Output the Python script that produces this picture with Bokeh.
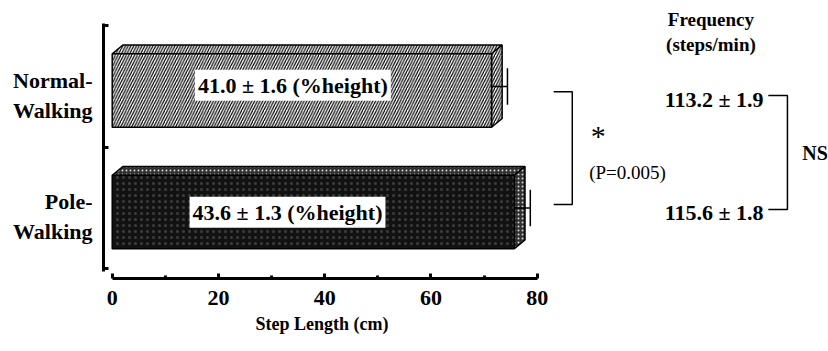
from bokeh.plotting import figure
from bokeh.models import Range1d, LinearAxis, FixedTicker, ColumnDataSource, Title
from bokeh.core.properties import value
from bokeh.embed import file_html
from bokeh.resources import INLINE

# ---- data -------------------------------------------------------------
categories = ["Normal-\nWalking", "Pole-\nWalking"]
cat_pos = [1.0, 0.0]
step_length = [71.4, 75.7]          # cm
step_error = [3.0, 3.0]             # cm
height_pct = ["41.0 ± 1.6 (%height)", "43.6 ± 1.3 (%height)"]
frequency = ["113.2 ± 1.9", "115.6 ± 1.8"]
x_ticks = [0, 20, 40, 60, 80]
x_minor = [10, 30, 50, 70]
x_title = "Step Length (cm)"
p_text = "(P=0.005)"
freq_header = "Frequency\n(steps/min)"

SERIF = "Liberation Serif"

# ---- geometry constants (style) --------------------------------------
BAR_LO, BAR_HI = 0.335, 0.27   # front face extent around category centre
DX, DY = 2.0, 0.072            # 3-D depth offset
CAP = 0.15

p = figure(width=828, height=351, output_backend="svg", toolbar_location=None,
           x_range=Range1d(-1.64, 134.83), y_range=Range1d(-0.58, 1.708),
           min_border_left=103, min_border_right=0, min_border_top=0,
           min_border_bottom=73, x_axis_location=None, y_axis_location=None)
p.outline_line_color = None
p.grid.grid_line_color = None
p.background_fill_color = "white"

# ---- axes ---------------------------------------------------------------
xaxis = LinearAxis(ticker=FixedTicker(ticks=x_ticks, minor_ticks=x_minor),
                   bounds=(0, 80))
xaxis.axis_line_width = 3
xaxis.major_tick_in = 5
xaxis.major_tick_out = 0
xaxis.major_tick_line_width = 3
xaxis.minor_tick_in = 3
xaxis.minor_tick_out = 0
xaxis.minor_tick_line_width = 3
xaxis.major_label_text_font = SERIF
xaxis.major_label_text_font_style = "bold"
xaxis.major_label_text_font_size = "22px"
xaxis.major_label_text_color = "black"
xaxis.major_label_standoff = 12
p.add_layout(xaxis, "below")

# x-axis title, centred under the 0-80 span of the axis
xt = Title(text=x_title, align="left", offset=152, standoff=8,
           text_font=SERIF, text_font_style="bold", text_font_size="18px",
           text_color="black")
p.add_layout(xt, "below")

yaxis = LinearAxis(ticker=FixedTicker(ticks=[-0.5, 0.5, 1.5], minor_ticks=[]),
                   bounds=(-0.52, 1.52))
yaxis.axis_line_width = 3
yaxis.major_tick_in = 5
yaxis.major_tick_out = 0
yaxis.major_tick_line_width = 3
yaxis.minor_tick_in = 0
yaxis.minor_tick_out = 0
yaxis.major_label_text_font_size = "0px"
yaxis.major_label_standoff = 0
p.add_layout(yaxis, "left")

label_ticks = [c - 0.07 for c in cat_pos]
ylab = LinearAxis(ticker=FixedTicker(ticks=label_ticks, minor_ticks=[]),
                  major_label_overrides={t: lab for t, lab in zip(label_ticks, categories)})
ylab.axis_line_color = None
ylab.major_tick_line_color = None
ylab.minor_tick_line_color = None
ylab.major_label_text_font = SERIF
ylab.major_label_text_font_style = "bold"
ylab.major_label_text_font_size = "22px"
ylab.major_label_text_color = "black"
ylab.major_label_standoff = 5
p.add_layout(ylab, "left")

# ---- bars (3-D look) ----------------------------------------------------
styles = [
    dict(front=dict(fill_color="white", hatch_pattern="/", hatch_color="black",
                    hatch_scale=5.5, hatch_weight=1.2),
         side=dict(fill_color="white", hatch_pattern="/", hatch_color="black",
                   hatch_scale=5.5, hatch_weight=1.2)),
    dict(front=dict(fill_color="#121212", hatch_pattern=".", hatch_color="white",
                    hatch_alpha=0.18, hatch_scale=6, hatch_weight=1),
         side=dict(fill_color="#303030", hatch_pattern=".", hatch_color="white",
                   hatch_alpha=0.8, hatch_scale=4, hatch_weight=1)),
]

for v, c, err, st in zip(step_length, cat_pos, step_error, styles):
    lo, hi = c - BAR_LO, c + BAR_HI
    # top face
    p.patch([0, v, v + DX, DX], [hi, hi, hi + DY, hi + DY],
            line_color="black", line_width=1.5, **st["side"])
    # side face
    p.patch([v, v + DX, v + DX, v], [lo, lo + DY, hi + DY, hi],
            line_color="black", line_width=1.5, **st["side"])
    # front face
    p.quad(left=[0], right=[v], bottom=[lo], top=[hi],
           line_color="black", line_width=1.5, **st["front"])
    # error whisker
    p.segment(x0=[v], y0=[c], x1=[v + err], y1=[c], line_color="black", line_width=1.5)
    p.segment(x0=[v + err], y0=[c - CAP], x1=[v + err], y1=[c + CAP],
              line_color="black", line_width=1.5)

# labels inside the bars
lab_src = ColumnDataSource(dict(x=[34.0, 33.0], y=[cat_pos[0] + 0.01, cat_pos[1] - 0.035],
                                t=height_pct))
p.text(x="x", y="y", text="t", source=lab_src, text_align="center",
       text_baseline="middle", text_font=value(SERIF), text_font_style="bold",
       text_font_size="22px", text_color="black",
       background_fill_color="white", padding=3)

# ---- significance brackets ----------------------------------------------
p.line([83.1, 86.6, 86.6, 83.1], [0.958, 0.958, 0.029, 0.029],
       line_color="black", line_width=1.5)
p.text(x=[91.5], y=[0.60], text=["*"], text_align="center", text_baseline="middle",
       text_font=value(SERIF), text_font_size="30px")
p.text(x=[97.0], y=[0.292], text=[p_text], text_align="center", text_baseline="middle",
       text_font=value(SERIF), text_font_size="19px")

# frequency column
p.text(x=[112.7], y=[1.449], text=[freq_header], text_align="center",
       text_baseline="middle", text_font=value(SERIF), text_font_style="bold",
       text_font_size="19px", text_line_height=1.2)
p.text(x=[113.3, 113.3], y=[0.893, -0.037], text=frequency, text_align="center",
       text_baseline="middle", text_font=value(SERIF), text_font_style="bold",
       text_font_size="22px")
p.line([123.5, 127.1, 127.1, 123.5], [0.926, 0.926, -0.012, -0.012],
       line_color="black", line_width=1.5)
p.text(x=[132.3], y=[0.457], text=["NS"], text_align="center", text_baseline="middle",
       text_font=value(SERIF), text_font_style="bold", text_font_size="20px")

open("out.html", "w").write(file_html(p, INLINE))
